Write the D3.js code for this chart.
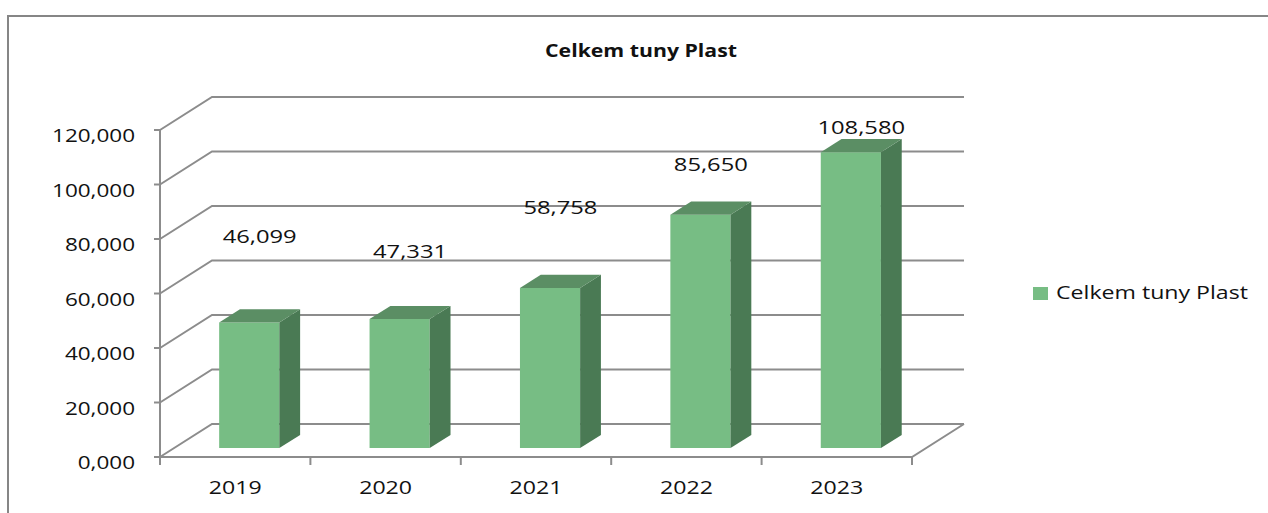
<!DOCTYPE html>
<html>
<head>
<meta charset="utf-8">
<script src="https://cdn.jsdelivr.net/npm/d3@7/dist/d3.min.js"></script>
<style>
    html, body { margin: 0; padding: 0; background: #fff; }
    svg { display: block; font-family: 'Open Sans', sans-serif; }
</style>
</head>
<body>
<div id="app"></div>
<script>
// data
const years = ['2019', '2020', '2021', '2022', '2023']
const tons = [46.099, 47.331, 58.758, 85.650, 108.580]
const yTicks = [0, 20, 40, 60, 80, 100, 120]
const seriesName = 'Celkem tuny Plast'
const chartTitle = 'Celkem tuny Plast'

const W = 1268
const H = 513
const DEPTH_X = 52      // back wall offset
const DEPTH_Y = -33
const BAR_Z0 = 0.27     // bar front / back depth as a fraction of the wall depth
const BAR_Z1 = 0.67
const SX = 1.25         // the original picture is stretched sideways
const GRID = '#8c8c8c'
const FRONT = '#77bd84'
const SIDE = '#4a7a54'
const TOP = '#5b8e64'
const INK = '#111'

// czech number format: 46,099
const cz = d3.formatLocale({ decimal: ',', thousands: ' ', grouping: [3], currency: ['', ' Kč'] })
const fmt = cz.format('.3f')

const svg = d3.select('#app').append('svg')
    .attr('width', W)
    .attr('height', H)

// outer frame (only top and left edges are visible)
svg.append('path')
    .attr('d', `M 8,${H} L 8,16 L ${W},16`)
    .attr('fill', 'none')
    .attr('stroke', '#868686')
    .attr('stroke-width', 2)

// scales on the front plane
const x = d3.scaleBand()
    .domain(years)
    .range([160, 912])
    .paddingInner(0.6)
    .paddingOuter(0.3)
const y = d3.scaleLinear()
    .domain([0, 120])
    .range([457, 130])

// move a front-plane point back by z (0 = front, 1 = back wall)
const proj = (px, py, z) => [px + z * DEPTH_X, py + z * DEPTH_Y]

// place text with the sideways stretch
const put = (sel, px, py) => sel.attr('transform', `translate(${px},${py}) scale(${SX},1)`)

const x0 = x.range()[0]
const x1 = x.range()[1]

// gridlines: front-left corner -> back wall -> across
const grid = svg.append('g')
    .attr('fill', 'none')
    .attr('stroke', GRID)
    .attr('stroke-width', 2)
grid.selectAll('path.gl')
    .data(yTicks)
    .join('path')
    .attr('class', 'gl')
    .attr('d', t => {
        const b0 = proj(x0, y(t), 1)
        const b1 = proj(x1, y(t), 1)
        return `M ${x0},${y(t)} L ${b0[0]},${b0[1]} L ${b1[0]},${b1[1]}`
    })

// floor right edge and front edge
const fr = proj(x1, y(0), 1)
grid.append('path')
    .attr('d', `M ${x0},${y(0)} L ${x1},${y(0)} L ${fr[0]},${fr[1]}`)

// value axis line and ticks
grid.append('path')
    .attr('d', `M ${x0},${y(120)} L ${x0},${y(0)}`)
grid.selectAll('path.yt')
    .data(yTicks)
    .join('path')
    .attr('class', 'yt')
    .attr('d', t => `M ${x0 - 6},${y(t)} L ${x0},${y(t)}`)

// category ticks on the boundaries
const bounds = d3.range(years.length + 1).map(i => x0 + i * x.step())
grid.selectAll('path.xt')
    .data(bounds)
    .join('path')
    .attr('class', 'xt')
    .attr('d', b => `M ${b},${y(0)} L ${b},${y(0) + 8}`)

// y tick labels
svg.append('g')
    .selectAll('text')
    .data(yTicks)
    .join('text')
    .attr('text-anchor', 'end')
    .attr('font-size', 18)
    .attr('fill', INK)
    .text(t => fmt(t))
    .each(function (t) { put(d3.select(this), 135, y(t) + 12) })

// x labels
svg.append('g')
    .selectAll('text')
    .data(years)
    .join('text')
    .attr('text-anchor', 'middle')
    .attr('font-size', 18.5)
    .attr('fill', INK)
    .text(d => d)
    .each(function (d) { put(d3.select(this), x(d) + x.bandwidth() / 2, 494) })

// 3d bars: front, side, top
const bars = svg.append('g')
    .selectAll('g')
    .data(years.map((d, i) => ({ year: d, v: tons[i] })))
    .join('g')

const poly = pts => 'M ' + pts.map(p => p.join(',')).join(' L ') + ' Z'

bars.append('path')
    .attr('fill', FRONT)
    .attr('d', d => {
        const l = x(d.year), r = l + x.bandwidth()
        return poly([proj(l, y(0), BAR_Z0), proj(r, y(0), BAR_Z0), proj(r, y(d.v), BAR_Z0), proj(l, y(d.v), BAR_Z0)])
    })
bars.append('path')
    .attr('fill', SIDE)
    .attr('d', d => {
        const r = x(d.year) + x.bandwidth()
        return poly([proj(r, y(0), BAR_Z0), proj(r, y(0), BAR_Z1), proj(r, y(d.v), BAR_Z1), proj(r, y(d.v), BAR_Z0)])
    })
bars.append('path')
    .attr('fill', TOP)
    .attr('d', d => {
        const l = x(d.year), r = l + x.bandwidth()
        return poly([proj(l, y(d.v), BAR_Z0), proj(r, y(d.v), BAR_Z0), proj(r, y(d.v), BAR_Z1), proj(l, y(d.v), BAR_Z1)])
    })

// value labels -- excel floated them at uneven heights above the bars
const labelLift = [80, 62, 74, 44, 19]
const zMid = (BAR_Z0 + BAR_Z1) / 2
bars.append('text')
    .attr('text-anchor', 'middle')
    .attr('font-size', 19)
    .attr('fill', INK)
    .text(d => fmt(d.v))
    .each(function (d, i) {
        const p = proj(x(d.year) + x.bandwidth() / 2, y(d.v), zMid)
        put(d3.select(this), p[0], p[1] - labelLift[i] + 7)
    })

// title
put(svg.append('text')
    .attr('text-anchor', 'middle')
    .attr('font-size', 17)
    .attr('font-weight', 'bold')
    .attr('fill', INK)
    .text(chartTitle), 641, 57)

// legend
const lg = svg.append('g')
lg.append('rect')
    .attr('x', 1033)
    .attr('y', 287)
    .attr('width', 15)
    .attr('height', 13)
    .attr('fill', FRONT)
put(lg.append('text')
    .attr('font-size', 18.5)
    .attr('fill', INK)
    .text(seriesName), 1056, 299)
</script>
</body>
</html>
